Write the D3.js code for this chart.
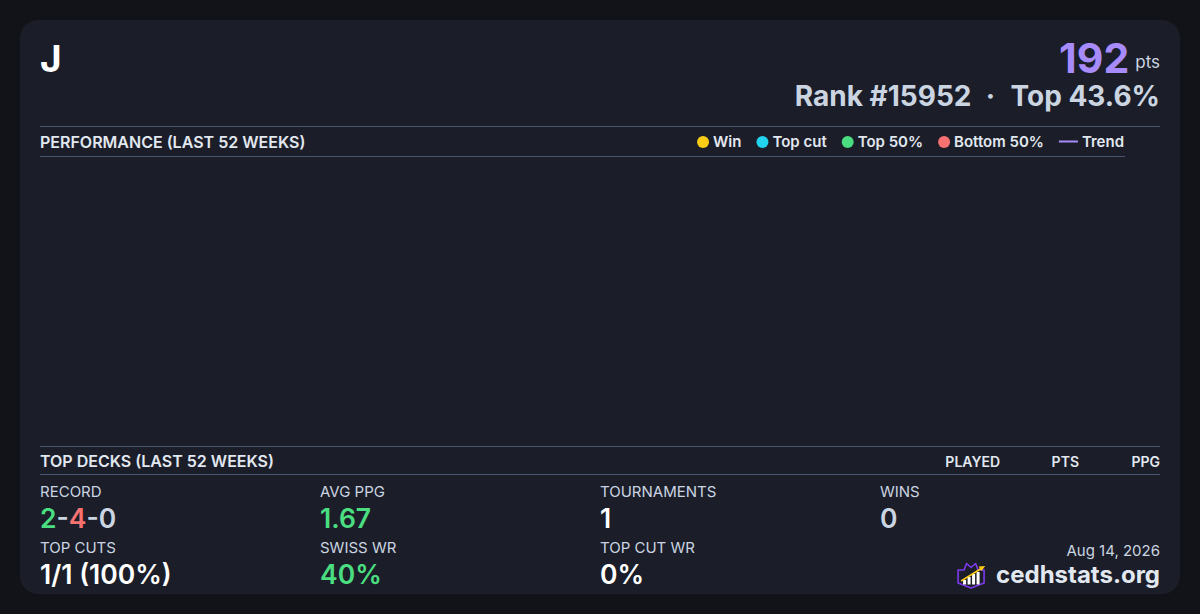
<!DOCTYPE html>
<html>
<head>
<meta charset="utf-8">
<script src="https://cdn.jsdelivr.net/npm/d3@7"></script>
<style>
  html, body { margin: 0; padding: 0; background: #111318; }
  svg { display: block; font-family: Inter, "Noto Sans", sans-serif; }
</style>
</head>
<body>
<div id="card"></div>
<script>
const FRAME_WIDTH = 1200;
const FRAME_HEIGHT = 614;

// player header
const PLAYER_NAME = "J";
const POINTS = 192;
const RANK = 15952;
const TOP_PCT = "43.6%";
const DATE_LABEL = "Aug 14, 2026";
const SITE = "cedhstats.org";

// legend for the performance chart
const LEGEND_LABELS = ["Win", "Top cut", "Top 50%", "Bottom 50%", "Trend"];
const LEGEND_COLORS = ["#facc15", "#22d3ee", "#4ade80", "#f87171", "#a78bfa"];

// performance points (none in the last 52 weeks)
const PERF_WEEKS = [];
const PERF_VALUES = [];
const PERF_RESULTS = [];

// top decks table
const DECK_COLUMNS = ["PLAYED", "PTS", "PPG"];

// stat tiles
const STAT_LABELS = ["RECORD", "AVG PPG", "TOURNAMENTS", "WINS", "TOP CUTS", "SWISS WR", "TOP CUT WR"];
const STAT_VALUES = ["2-4-0", "1.67", "1", "0", "1/1 (100%)", "40%", "0%"];
const STAT_COLORS = ["record", "#4ade80", "#ffffff", "#cbd5e1", "#ffffff", "#4ade80", "#ffffff"];

const RECORD_PARTS = ["2", "-", "4", "-", "0"];
const RECORD_COLORS = ["#4ade80", "#cbd5e1", "#f87171", "#cbd5e1", "#cbd5e1"];

const LINE_COLOR = "#4a5670";
const TEXT_LIGHT = "#e2e8f0";
const TEXT_MUTED = "#cbd5e1";

const svg = d3.select("#card")
  .append("svg")
    .attr("width", FRAME_WIDTH)
    .attr("height", FRAME_HEIGHT);

// card background
svg.append("rect")
  .attr("x", 20).attr("y", 20)
  .attr("width", 1160).attr("height", 574)
  .attr("rx", 18)
  .attr("fill", "#1b1e29");

// header
svg.append("text")
  .attr("x", 40).attr("y", 72)
  .attr("font-size", 37).attr("font-weight", 700)
  .attr("fill", "#ffffff")
  .text(PLAYER_NAME);

const pts = svg.append("text")
  .attr("x", 1160).attr("y", 73)
  .attr("text-anchor", "end");
pts.append("tspan")
  .attr("font-size", 41).attr("font-weight", 700)
  .attr("fill", "#a78bfa")
  .text(POINTS);
pts.append("tspan")
  .attr("dx", 6)
  .attr("font-size", 17).attr("font-weight", 400)
  .attr("fill", TEXT_MUTED)
  .attr("dy", -5)
  .text("pts");

// rank line, laid out right to left
const rankG = svg.append("g")
  .attr("font-size", 28).attr("font-weight", 700)
  .attr("fill", TEXT_MUTED);
const topT = rankG.append("text")
  .attr("x", 1160).attr("y", 106)
  .attr("text-anchor", "end")
  .text("Top " + TOP_PCT);
const topW = topT.node().getComputedTextLength();
rankG.append("text")
  .attr("x", 1160 - topW - 20).attr("y", 106)
  .attr("text-anchor", "middle")
  .text("\u00b7");
rankG.append("text")
  .attr("x", 1160 - topW - 39).attr("y", 106)
  .attr("text-anchor", "end")
  .text("Rank #" + RANK);

// performance section
svg.append("line")
  .attr("x1", 40).attr("x2", 1160).attr("y1", 126.5).attr("y2", 126.5)
  .attr("stroke", LINE_COLOR);
svg.append("line")
  .attr("x1", 40).attr("x2", 1125).attr("y1", 156.5).attr("y2", 156.5)
  .attr("stroke", LINE_COLOR);

svg.append("text")
  .attr("x", 40).attr("y", 148)
  .attr("font-size", 16).attr("font-weight", 600)
  .attr("fill", TEXT_LIGHT)
  .text("PERFORMANCE (LAST 52 WEEKS)");

// legend, laid out right to left
const legend = svg.append("g").attr("font-size", 15).attr("font-weight", 600);
let lx = 1124;
const legendItems = LEGEND_LABELS.map((l, i) => ({label: l, color: LEGEND_COLORS[i]})).reverse();
legendItems.forEach(d => {
  const t = legend.append("text")
    .attr("x", lx).attr("y", 147)
    .attr("text-anchor", "end")
    .attr("fill", TEXT_LIGHT)
    .text(d.label);
  const w = t.node().getComputedTextLength();
  if (d.label === "Trend") {
    legend.append("line")
      .attr("x1", lx - w - 23).attr("x2", lx - w - 4)
      .attr("y1", 141.5).attr("y2", 141.5)
      .attr("stroke", d.color).attr("stroke-width", 2);
    lx = lx - w - 23 - 15;
  } else {
    legend.append("circle")
      .attr("cx", lx - w - 10).attr("cy", 142)
      .attr("r", 6)
      .attr("fill", d.color);
    lx = lx - w - 16 - 15;
  }
});

// performance plot (empty)
const X_SCALE = d3.scaleLinear().domain([0, 52]).range([40, 1125]);
const Y_SCALE = d3.scaleLinear().domain([0, 1]).range([436, 166]);
const RESULT_COLOR = d3.scaleOrdinal().domain(LEGEND_LABELS.slice(0, 4)).range(LEGEND_COLORS.slice(0, 4));

svg.append("g").selectAll("circle")
  .data(PERF_WEEKS.map((w, i) => ({w: w, v: PERF_VALUES[i], r: PERF_RESULTS[i]})))
  .enter()
  .append("circle")
    .attr("cx", d => X_SCALE(d.w))
    .attr("cy", d => Y_SCALE(d.v))
    .attr("r", 5)
    .attr("fill", d => RESULT_COLOR(d.r));

// top decks section
svg.append("line")
  .attr("x1", 40).attr("x2", 1160).attr("y1", 446.5).attr("y2", 446.5)
  .attr("stroke", LINE_COLOR);
svg.append("line")
  .attr("x1", 40).attr("x2", 1160).attr("y1", 474.5).attr("y2", 474.5)
  .attr("stroke", LINE_COLOR);

svg.append("text")
  .attr("x", 40).attr("y", 467)
  .attr("font-size", 16).attr("font-weight", 600)
  .attr("fill", TEXT_LIGHT)
  .text("TOP DECKS (LAST 52 WEEKS)");

const COL_X = [1000, 1079, 1160];
svg.append("g").selectAll("text")
  .data(DECK_COLUMNS)
  .enter()
  .append("text")
    .attr("x", (d, i) => COL_X[i]).attr("y", 467)
    .attr("text-anchor", "end")
    .attr("font-size", 14).attr("font-weight", 600)
    .attr("fill", TEXT_LIGHT)
    .text(d => d);

// stat tiles: 4 columns, 2 rows
const tileX = d3.scalePoint().domain([0, 1, 2, 3]).range([40, 880]);
const tiles = svg.append("g").selectAll("g")
  .data(STAT_LABELS.map((l, i) => ({label: l, value: STAT_VALUES[i], color: STAT_COLORS[i], i: i})))
  .enter()
  .append("g")
    .attr("transform", d => "translate(" + tileX(d.i % 4) + "," + (d.i < 4 ? 0 : 56) + ")");

tiles.append("text")
  .attr("y", 497)
  .attr("font-size", 15).attr("font-weight", 400)
  .attr("fill", TEXT_MUTED)
  .text(d => d.label);

tiles.append("text")
  .attr("y", 527.5)
  .attr("font-size", 26.5).attr("font-weight", 600)
  .attr("fill", d => d.color === "record" ? null : d.color)
  .each(function(d) {
    const t = d3.select(this);
    if (d.color === "record") {
      RECORD_PARTS.forEach((p, k) => {
        t.append("tspan").attr("fill", RECORD_COLORS[k]).text(p);
      });
    } else {
      t.text(d.value);
    }
  });

// footer
svg.append("text")
  .attr("x", 1160).attr("y", 556)
  .attr("text-anchor", "end")
  .attr("font-size", 15)
  .attr("fill", TEXT_MUTED)
  .text(DATE_LABEL);

const site = svg.append("text")
  .attr("x", 1160).attr("y", 583)
  .attr("text-anchor", "end")
  .attr("font-size", 24).attr("font-weight", 700)
  .attr("fill", TEXT_LIGHT)
  .text(SITE);

// logo: shield with crown, bars and rising arrow
const sw = site.node().getComputedTextLength();
const logo = svg.append("g")
  .attr("transform", "translate(" + (1160 - sw - 39) + ",561)");
logo.append("path")
  .attr("d", "M1,9 L7,9 L9.5,2.5 L14,6.5 L18.5,2.5 L21,9 L27,9 L27,22 L14,27 L1,22 Z")
  .attr("fill", "#1b1e29")
  .attr("stroke", "#7c3aed").attr("stroke-width", 1.6)
  .attr("stroke-linejoin", "round");
[[6, 19, 3], [10.5, 16, 3], [15, 13, 3], [19.5, 11, 3]].forEach(b => {
  logo.append("rect")
    .attr("x", b[0]).attr("y", b[1])
    .attr("width", b[2]).attr("height", 23.5 - b[1])
    .attr("fill", "#ffffff");
});
logo.append("line")
  .attr("x1", 4).attr("y1", 20).attr("x2", 25).attr("y2", 7)
  .attr("stroke", "#facc15").attr("stroke-width", 1.6);
logo.append("path")
  .attr("d", "M28,5 L21.5,5.5 L24.5,10 Z")
  .attr("fill", "#facc15");
</script>
</body>
</html>
